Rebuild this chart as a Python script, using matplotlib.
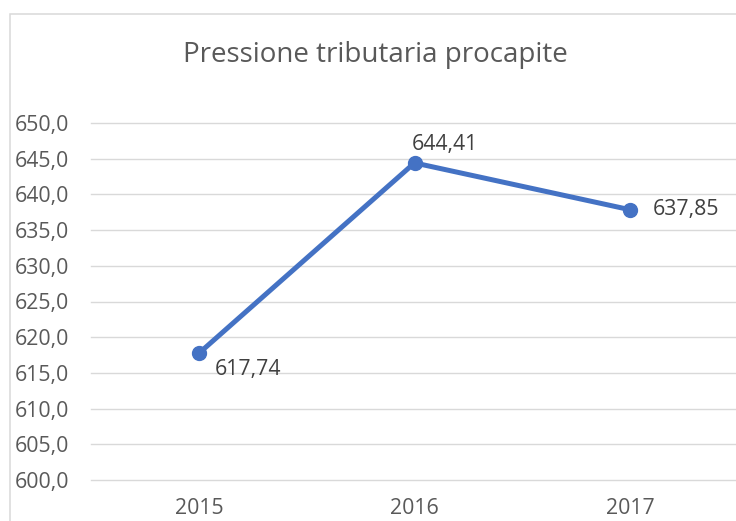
import matplotlib

matplotlib.use("Agg")
import matplotlib.pyplot as plt
from matplotlib.patches import Rectangle

years = ["2015", "2016", "2017"]
values = [617.74, 644.41, 637.85]
value_labels = ["617,74", "644,41", "637,85"]
y_ticks = [600, 605, 610, 615, 620, 625, 630, 635, 640, 645, 650]

BLUE = "#4472C4"
GRID = "#D9D9D9"
TEXT = "#595959"

plt.rcParams["font.family"] = ["Open Sans", "DejaVu Sans"]

W, H = 736, 521
fig = plt.figure(figsize=(W / 100, H / 100), dpi=100)

# chart border (cropped at right/bottom like the reference)
fig.patches.append(Rectangle((10 / W, -0.05), 1.0, (H - 14) / H + 0.05,
                             transform=fig.transFigure, fill=False,
                             edgecolor=GRID, linewidth=1.1))

ax = fig.add_axes([91 / W, 41 / H, (738 - 91) / W, (480 - 123) / H])
x = range(len(years))
ax.plot(x, values, color=BLUE, linewidth=3.6, marker="o", markersize=10,
        solid_capstyle="round", zorder=3, clip_on=False)

ax.set_xlim(-0.5, len(years) - 0.5)
ax.set_ylim(600, 650)
ax.set_yticks(y_ticks)
ax.set_yticklabels([f"{v:.1f}".replace(".", ",") for v in y_ticks])
ax.set_xticks(list(x))
ax.set_xticklabels(years)
ax.tick_params(axis="y", length=0, pad=16, labelsize=15.3, labelcolor=TEXT)
ax.tick_params(axis="x", length=0, pad=13, labelsize=15.3, labelcolor=TEXT)
ax.grid(axis="y", color=GRID, linewidth=1.0)
for gl in ax.get_ygridlines():
    gl.set_clip_on(False)
ax.set_axisbelow(True)
for s in ax.spines.values():
    s.set_visible(False)

offsets = [((16, -16), "left", "center"), ((-3, 18), "left", "center"), ((23, 0), "left", "center")]
for i, (v, lab) in enumerate(zip(values, value_labels)):
    (dx, dy), ha, va = offsets[i]
    ax.annotate(lab, (i, v), xytext=(dx * 0.72, dy * 0.72), textcoords="offset points",
                ha=ha, va=va, fontsize=15.3, color="#404040")

fig.text(375 / W, 1 - 55 / H, "Pressione tributaria procapite", ha="center", va="center",
         fontsize=20, color=TEXT)

fig.savefig("out.png", dpi=100)
